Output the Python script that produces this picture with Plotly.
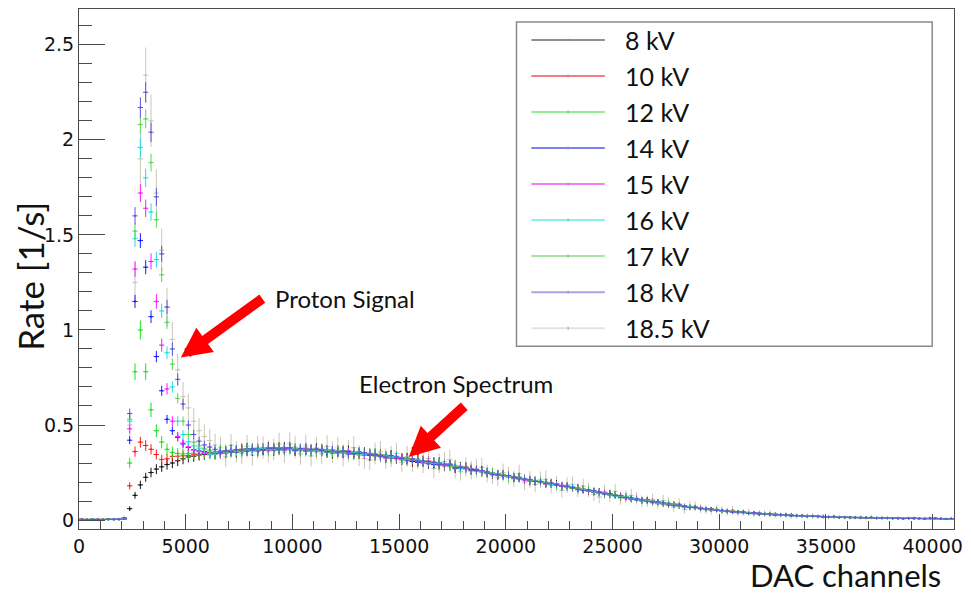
import numpy as np
import plotly.graph_objects as go

# ---------------- data ----------------
BIN_WIDTH = 250          # DAC channels per histogram bin
N_BINS = 164             # bins from 0 to 41000

series_labels = ["8 kV", "10 kV", "12 kV", "14 kV", "15 kV", "16 kV", "17 kV", "18 kV", "18.5 kV"]

# rates per bin in units of 1e-3 / s
rate_8kV = [3, 2, 4, 3, 3, 4, 3, 5, 6,
            60, 130, 185, 225, 250, 268, 280, 292, 300, 312, 322, 332, 336, 342, 346,
            354, 349, 362, 358, 366, 358, 368, 375, 367, 365,
            371, 379, 368, 376, 378, 381, 369, 366, 372, 368,
            373, 366, 358, 353, 362, 355, 362, 349, 352, 353,
            340, 345, 341, 329, 339, 326, 319, 324, 308, 314,
            308, 297, 303, 302, 288, 288, 273, 279, 277, 264,
            263, 260, 250, 243, 236, 238, 231, 223, 225, 212,
            206, 206, 203, 193, 191, 189, 177, 177, 169, 167,
            161, 153, 149, 149, 138, 139, 132, 121, 123, 110,
            112, 103, 105, 95, 95, 85, 85, 84, 74, 68,
            68, 67, 60, 58, 56, 55, 48, 45, 45, 42,
            42, 38, 34, 31, 33, 29, 31, 26, 26, 27,
            24, 22, 20, 20, 20, 17, 17, 17, 15, 14,
            14, 14, 12, 13, 12, 11, 10, 11, 9, 10,
            8, 9, 10, 8, 7, 9, 9, 7, 6, 7]

rate_10kV = [4, 3, 3, 2, 4, 3, 4, 4, 7,
             180, 360, 410, 392, 372, 345, 318, 322, 335, 336, 338, 340, 344, 346, 350,
             357, 354, 351, 351, 364, 361, 373, 364, 371, 376,
             374, 368, 379, 382, 371, 375, 364, 374, 376, 367,
             360, 367, 368, 358, 360, 363, 350, 357, 349, 351,
             348, 338, 345, 334, 336, 322, 325, 326, 312, 305,
             311, 310, 297, 291, 285, 291, 282, 273, 279, 261,
             260, 259, 247, 246, 242, 240, 228, 222, 221, 214,
             207, 207, 201, 191, 195, 184, 178, 178, 166, 167,
             162, 153, 154, 144, 143, 132, 131, 129, 118, 111,
             111, 101, 103, 100, 90, 89, 79, 82, 80, 71,
             70, 67, 61, 57, 53, 54, 49, 46, 47, 40,
             41, 37, 36, 36, 31, 32, 30, 25, 28, 22,
             23, 23, 20, 21, 19, 18, 16, 17, 14, 15,
             13, 13, 14, 12, 11, 12, 12, 10, 9, 10,
             10, 9, 8, 8, 9, 7, 8, 8, 7, 6]

rate_12kV = [3, 4, 2, 3, 3, 5, 3, 4, 8,
             300, 780, 1000, 780, 580, 470, 410, 372, 356, 350, 348, 350, 352, 348, 352,
             352, 347, 360, 366, 358, 365, 358, 371, 376, 369,
             375, 371, 374, 381, 370, 380, 375, 365, 375, 361,
             365, 370, 356, 362, 363, 365, 352, 348, 353, 347,
             349, 349, 337, 331, 325, 332, 324, 316, 323, 306,
             313, 304, 294, 287, 294, 284, 288, 272, 272, 271,
             262, 252, 253, 249, 238, 236, 225, 227, 224, 214,
             212, 203, 204, 194, 193, 182, 181, 179, 168, 161,
             162, 159, 149, 143, 136, 138, 131, 123, 125, 112,
             114, 106, 98, 91, 94, 87, 88, 78, 77, 75,
             67, 66, 64, 57, 55, 54, 47, 48, 43, 43,
             41, 37, 38, 34, 34, 28, 30, 29, 25, 23,
             22, 22, 22, 20, 18, 19, 18, 16, 14, 15,
             15, 13, 12, 12, 13, 10, 11, 11, 10, 9,
             9, 10, 8, 9, 8, 8, 7, 8, 6, 7]

rate_14kV = [2, 3, 4, 3, 2, 4, 3, 4, 9,
             420, 1150, 1470, 1330, 1070, 860, 680, 530, 470, 435, 400, 382, 370, 364, 360,
             344, 355, 361, 356, 362, 369, 361, 372, 368, 374,
             368, 377, 377, 369, 382, 372, 368, 376, 363, 372,
             371, 372, 361, 357, 353, 362, 356, 350, 359, 343,
             347, 339, 338, 341, 327, 334, 326, 313, 320, 303,
             305, 308, 292, 296, 295, 294, 278, 271, 273, 265,
             265, 257, 248, 240, 242, 234, 234, 223, 221, 218,
             211, 203, 199, 199, 188, 189, 182, 171, 173, 160,
             159, 158, 146, 146, 142, 140, 128, 122, 121, 114,
             106, 106, 104, 94, 93, 92, 81, 82, 75, 74,
             67, 66, 63, 56, 58, 52, 48, 49, 42, 43,
             40, 36, 37, 36, 31, 31, 26, 28, 28, 24,
             24, 22, 20, 20, 20, 17, 17, 17, 15, 14,
             13, 13, 14, 12, 11, 12, 12, 10, 9, 10,
             9, 10, 8, 9, 8, 8, 7, 8, 6, 7]

rate_15kV = [4, 3, 3, 4, 3, 3, 5, 3, 9,
             480, 1320, 1720, 1640, 1360, 1150, 920, 690, 520, 440, 405, 385, 368, 360, 356,
             349, 358, 349, 360, 365, 371, 363, 363, 372, 370,
             377, 381, 373, 371, 368, 378, 373, 368, 378, 364,
             370, 361, 369, 360, 364, 352, 357, 360, 348, 342,
             351, 343, 334, 327, 334, 325, 330, 315, 316, 316,
             300, 305, 304, 292, 292, 292, 276, 280, 269, 269,
             263, 254, 255, 244, 243, 232, 231, 229, 218, 211,
             214, 206, 197, 190, 192, 184, 184, 173, 171, 168,
             157, 157, 151, 141, 145, 134, 128, 128, 116, 117,
             112, 109, 100, 94, 88, 91, 85, 78, 81, 69,
             70, 64, 64, 58, 57, 50, 50, 49, 43, 40,
             38, 39, 38, 33, 32, 32, 27, 28, 25, 26,
             23, 23, 20, 21, 19, 18, 16, 17, 14, 15,
             15, 13, 12, 12, 13, 10, 11, 11, 10, 9,
             8, 9, 10, 8, 7, 9, 9, 7, 6, 7]

rate_16kV = [3, 3, 4, 2, 4, 3, 4, 5, 10,
             520, 1480, 1960, 1800, 1620, 1370, 1100, 880, 700, 520, 450, 412, 390, 378, 370,
             346, 356, 358, 353, 369, 362, 362, 373, 363, 374,
             376, 370, 381, 374, 379, 368, 374, 378, 367, 363,
             368, 359, 367, 368, 356, 359, 347, 356, 357, 346,
             343, 347, 332, 336, 335, 335, 320, 314, 317, 310,
             309, 300, 298, 301, 287, 293, 284, 270, 276, 258,
             258, 258, 252, 241, 245, 234, 228, 228, 216, 217,
             212, 209, 199, 193, 186, 188, 181, 173, 175, 162,
             161, 151, 152, 149, 138, 136, 125, 127, 124, 114,
             111, 103, 100, 100, 90, 92, 86, 76, 79, 67,
             71, 65, 60, 55, 56, 51, 51, 46, 44, 44,
             39, 40, 34, 34, 33, 33, 28, 25, 27, 25,
             22, 22, 22, 20, 18, 19, 18, 16, 14, 15,
             14, 14, 12, 13, 12, 11, 10, 11, 9, 10,
             10, 9, 8, 8, 9, 7, 8, 8, 7, 6]

rate_17kV = [3, 4, 3, 3, 4, 4, 3, 4, 10,
             530, 1520, 2080, 2110, 1880, 1580, 1290, 1040, 820, 640, 520, 450, 410, 390, 378,
             368, 362, 354, 355, 355, 368, 367, 365, 378, 366,
             379, 375, 370, 367, 377, 371, 379, 367, 371, 374,
             362, 368, 365, 355, 367, 356, 351, 358, 344, 351,
             346, 336, 343, 342, 328, 329, 315, 322, 321, 309,
             310, 299, 305, 294, 296, 281, 283, 283, 268, 260,
             257, 257, 254, 243, 241, 239, 227, 227, 219, 217,
             209, 208, 196, 196, 192, 190, 178, 172, 171, 164,
             164, 156, 147, 140, 142, 134, 134, 123, 121, 118,
             107, 107, 102, 92, 97, 87, 82, 83, 72, 74,
             69, 63, 63, 60, 54, 53, 46, 48, 46, 41,
             41, 40, 35, 33, 30, 32, 29, 26, 29, 23,
             24, 22, 20, 20, 20, 17, 17, 17, 15, 14,
             13, 13, 14, 12, 11, 12, 12, 10, 9, 10,
             9, 10, 8, 9, 8, 8, 7, 8, 6, 7]

rate_18kV = [4, 3, 3, 3, 3, 4, 4, 4, 11,
             560, 1600, 2170, 2250, 2040, 1700, 1400, 1120, 900, 740, 610, 500, 450, 415, 395,
             384, 372, 355, 365, 357, 370, 369, 362, 375, 363,
             366, 376, 380, 372, 375, 379, 367, 375, 368, 372,
             372, 366, 359, 368, 357, 360, 347, 348, 352, 354,
             344, 344, 334, 332, 339, 331, 324, 312, 320, 309,
             310, 296, 304, 291, 290, 294, 275, 278, 274, 261,
             260, 260, 253, 240, 241, 233, 234, 227, 216, 216,
             212, 204, 202, 192, 194, 186, 178, 178, 171, 161,
             156, 153, 154, 146, 137, 138, 129, 129, 118, 117,
             109, 106, 98, 94, 97, 90, 85, 76, 79, 71,
             66, 67, 60, 59, 57, 51, 51, 47, 43, 43,
             41, 36, 38, 33, 32, 33, 27, 28, 27, 23,
             23, 23, 20, 21, 19, 18, 16, 17, 14, 15,
             15, 13, 12, 12, 13, 10, 11, 11, 10, 9,
             8, 9, 10, 8, 7, 9, 9, 7, 6, 7]

rate_18p5kV = [5, 2, 3, 6, 2, 4, 3, 6, 12,
               500, 1250, 1900, 2340, 2100, 1720, 1420, 1120, 950, 790, 650, 590, 520, 470, 440,
               418, 396, 380, 335, 393, 359, 350, 388, 342, 383,
               381, 362, 371, 399, 358, 401, 384, 347, 390, 337,
               379, 349, 387, 357, 379, 337, 363, 381, 339, 324,
               317, 350, 359, 323, 335, 351, 303, 335, 307, 323,
               299, 323, 271, 299, 307, 318, 269, 256, 279, 262,
               273, 277, 245, 233, 222, 250, 233, 216, 244, 200,
               213, 187, 212, 216, 181, 191, 156, 184, 188, 159,
               178, 158, 135, 121, 149, 129, 151, 113, 123, 130,
               114, 99, 99, 108, 84, 102, 90, 68, 86, 56,
               73, 72, 60, 54, 49, 57, 50, 44, 52, 37,
               39, 41, 32, 35, 34, 35, 27, 24, 27, 24,
               23, 20, 22, 22, 18, 19, 14, 17, 17, 14,
               12, 14, 14, 10, 15, 11, 10, 12, 8, 11,
               7, 10, 11, 7, 8, 10, 6, 8, 6, 8]

all_rates = [rate_8kV, rate_10kV, rate_12kV, rate_14kV, rate_15kV,
             rate_16kV, rate_17kV, rate_18kV, rate_18p5kV]

# statistical error scale per series (error = scale * sqrt(rate))
err_scale = [0.050, 0.045, 0.050, 0.032, 0.036, 0.036, 0.034, 0.036, 0.095]

# ---------------- styling ----------------
colors = ['#141414', '#ff1a1a', '#1fe01f', '#1a1aff', '#ff1aff',
          '#19e3e3', '#5cd457', '#5c57d9', '#c9c5b8']
legend_colors = ['#8f8f8f', '#f27f7f', '#8fee8f', '#7f7ff2', '#f27ff2',
                 '#86f0f0', '#a6e3a4', '#a6a4e6', '#e6e3dc']

W, H = 971, 594
ML, MR, MT, MB = 79, 10, 8, 65
PW, PH = W - ML - MR, H - MT - MB


def px(xp):
    return (xp - ML) / PW


def py(yp):
    return 1 - (yp - MT) / PH


centers = (np.arange(N_BINS) + 0.5) * BIN_WIDTH

fig = go.Figure()
order = [8, 0, 1, 2, 3, 4, 5, 6, 7]
for k in order:
    y = np.array(all_rates[k], dtype=float) / 1000.0
    err = err_scale[k] * np.sqrt(y)
    fig.add_trace(go.Scatter(
        x=centers, y=y, mode='markers', name=series_labels[k],
        marker=dict(size=2, color=colors[k]),
        error_y=dict(type='data', array=err, visible=True, thickness=1, width=0, color=colors[k]),
        error_x=dict(type='constant', value=BIN_WIDTH / 2, visible=True, thickness=1, width=0, color=colors[k]),
        showlegend=False, hoverinfo='skip'))

axis_col = '#4a4a4a'
tick_font = dict(family='DejaVu Sans', size=19, color='#111111')

fig.update_xaxes(range=[0, 41000], tick0=0, dtick=5000, tickformat='d', ticks='inside', ticklen=15, tickwidth=1,
                 tickcolor=axis_col, showline=True, linecolor=axis_col, linewidth=1.2, mirror=True,
                 showgrid=False, zeroline=False, tickfont=tick_font,
                 minor=dict(dtick=1000, tick0=0, ticks='inside', ticklen=7.5, tickwidth=1,
                            tickcolor=axis_col, showgrid=False))
fig.update_yaxes(range=[-0.047, 2.688], tick0=0, dtick=0.5, ticks='inside', ticklen=26, tickwidth=1,
                 tickcolor=axis_col, showline=True, linecolor=axis_col, linewidth=1.2, mirror=True,
                 showgrid=False, zeroline=False, tickfont=tick_font,
                 minor=dict(dtick=0.1, tick0=0, ticks='inside', ticklen=13, tickwidth=1,
                            tickcolor=axis_col, showgrid=False))

shapes = []
annotations = []

# legend box
lx0, lx1, ly0, ly1 = 520, 939, 21, 346
shapes.append(dict(type='rect', xref='paper', yref='paper', x0=px(lx0), x1=px(lx1),
                   y0=py(ly1), y1=py(ly0), line=dict(color='#8a8a8a', width=1.5),
                   fillcolor='white', layer='above'))
for k, lab in enumerate(series_labels):
    yy = 39 + 36.1 * k
    shapes.append(dict(type='line', xref='paper', yref='paper', x0=px(535), x1=px(609),
                       y0=py(yy), y1=py(yy), line=dict(color=legend_colors[k], width=2), layer='above'))
    shapes.append(dict(type='line', xref='paper', yref='paper', x0=px(572), x1=px(572),
                       y0=py(yy - 1.5), y1=py(yy + 1.5), line=dict(color='#9a9a9a', width=1), layer='above'))
    annotations.append(dict(text=lab, xref='paper', yref='paper', x=px(627), y=py(yy),
                            xanchor='left', yanchor='middle', showarrow=False,
                            font=dict(family='Lato', size=25, color='#111111')))

label_font = dict(family='Lato', size=24, color='#111111')
annotations += [
    dict(text='Proton Signal', xref='paper', yref='paper', x=px(275), y=py(298),
         xanchor='left', yanchor='middle', showarrow=False, font=label_font),
    dict(text='Electron Spectrum', xref='paper', yref='paper', x=px(359), y=py(383),
         xanchor='left', yanchor='middle', showarrow=False, font=label_font),
    dict(text='', x=4770, y=0.855, xref='x', yref='y', ax=83, ay=-60, showarrow=True,
         arrowhead=2, arrowsize=0.6, arrowwidth=10, arrowcolor='#ff0000', standoff=0),
    dict(text='', x=15450, y=0.332, xref='x', yref='y', ax=57, ay=-52, showarrow=True,
         arrowhead=2, arrowsize=0.6, arrowwidth=10, arrowcolor='#ff0000', standoff=0),
    dict(text='DAC channels', xref='paper', yref='paper', x=px(950), y=py(575.5),
         xanchor='right', yanchor='middle', showarrow=False,
         font=dict(family='Lato', size=31, color='#111111')),
    dict(text='Rate [1/s]', xref='paper', yref='paper', x=px(30), y=py(276), textangle=-90,
         xanchor='center', yanchor='middle', showarrow=False,
         font=dict(family='Lato', size=35, color='#111111')),
]

fig.update_layout(width=W, height=H, margin=dict(l=ML, r=MR, t=MT, b=MB),
                  paper_bgcolor='white', plot_bgcolor='white', showlegend=False,
                  shapes=shapes, annotations=annotations)

fig.write_html('out.html')
